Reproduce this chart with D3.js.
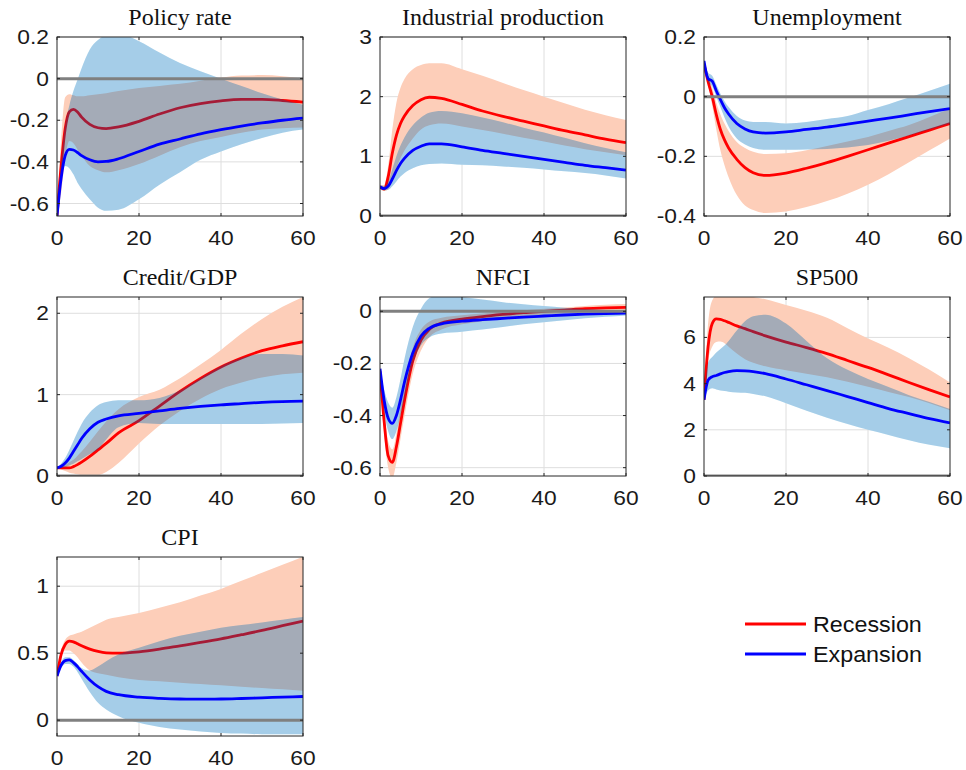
<!DOCTYPE html>
<html>
<head>
<meta charset="utf-8">
<script src="https://cdn.jsdelivr.net/npm/d3@7/dist/d3.min.js"></script>
<style>
  html, body { margin: 0; padding: 0; background: #fff; }
  svg { display: block; }
  .tint { mix-blend-mode: multiply; }
</style>
</head>
<body>
<svg id="chart" width="966" height="770"></svg>
<script>
// Horizons (months after the shock)
const horizons = [0,1,2,3,4,5,6,8,10,12,15,20,25,30,35,40,45,50,55,60];
const xTicks = [0, 20, 40, 60];

// Policy rate
const policyRec   = [-0.66,-0.42,-0.24,-0.16,-0.148,-0.16,-0.185,-0.22,-0.236,-0.24,-0.232,-0.205,-0.17,-0.14,-0.12,-0.107,-0.1,-0.1,-0.105,-0.113];
const policyRecLo = [-0.66,-0.55,-0.38,-0.3,-0.31,-0.34,-0.37,-0.42,-0.44,-0.45,-0.44,-0.41,-0.37,-0.33,-0.3,-0.28,-0.26,-0.245,-0.238,-0.235];
const policyRecHi = [-0.66,-0.3,-0.09,-0.075,-0.08,-0.085,-0.085,-0.08,-0.075,-0.07,-0.06,-0.045,-0.035,-0.025,-0.01,0.005,0.015,0.017,0.012,0.0];
const policyExp   = [-0.66,-0.48,-0.37,-0.34,-0.343,-0.355,-0.37,-0.39,-0.4,-0.398,-0.385,-0.35,-0.315,-0.29,-0.265,-0.245,-0.228,-0.213,-0.2,-0.19];
const policyExpLo = [-0.66,-0.45,-0.42,-0.43,-0.46,-0.5,-0.53,-0.58,-0.62,-0.635,-0.63,-0.58,-0.51,-0.45,-0.39,-0.35,-0.315,-0.285,-0.26,-0.245];
const policyExpHi = [-0.66,-0.4,-0.22,-0.13,-0.06,-0.005,0.05,0.14,0.185,0.21,0.215,0.18,0.125,0.075,0.035,0.0,-0.035,-0.07,-0.1,-0.125];
const policyTicks = [-0.6,-0.4,-0.2,0,0.2];
const policyTickLabels = ["-0.6","-0.4","-0.2","0","0.2"];

// Industrial production
const ipRec   = [0.49,0.45,0.66,1.05,1.35,1.55,1.68,1.85,1.95,1.99,1.97,1.87,1.76,1.67,1.59,1.51,1.43,1.36,1.29,1.23];
const ipRecLo = [0.45,0.42,0.45,0.6,0.8,0.97,1.1,1.3,1.45,1.52,1.55,1.5,1.44,1.38,1.31,1.25,1.18,1.12,1.07,1.02];
const ipRecHi = [0.52,0.52,0.85,1.45,1.9,2.15,2.3,2.46,2.53,2.56,2.56,2.46,2.35,2.23,2.11,2.0,1.89,1.78,1.69,1.61];
const ipExp   = [0.49,0.46,0.5,0.62,0.76,0.88,0.97,1.1,1.17,1.21,1.21,1.16,1.1,1.05,1.0,0.95,0.9,0.85,0.81,0.77];
const ipExpLo = [0.46,0.43,0.44,0.5,0.58,0.66,0.72,0.8,0.85,0.87,0.88,0.86,0.85,0.83,0.81,0.78,0.75,0.72,0.68,0.63];
const ipExpHi = [0.52,0.5,0.58,0.78,1.0,1.18,1.32,1.52,1.65,1.73,1.76,1.72,1.65,1.57,1.48,1.4,1.31,1.22,1.14,1.07];
const ipTicks = [0,1,2,3];
const ipTickLabels = ["0","1","2","3"];

// Unemployment
const unRec   = [0.11,0.05,0.0,-0.06,-0.11,-0.145,-0.172,-0.21,-0.238,-0.255,-0.264,-0.256,-0.24,-0.221,-0.2,-0.178,-0.156,-0.134,-0.112,-0.09];
const unRecLo = [0.1,0.04,-0.03,-0.11,-0.18,-0.23,-0.27,-0.33,-0.365,-0.38,-0.39,-0.385,-0.37,-0.35,-0.325,-0.295,-0.26,-0.22,-0.18,-0.14];
const unRecHi = [0.11,0.07,0.03,-0.02,-0.06,-0.09,-0.115,-0.152,-0.172,-0.185,-0.192,-0.19,-0.18,-0.165,-0.15,-0.135,-0.115,-0.095,-0.068,-0.04];
const unExp   = [0.12,0.06,0.052,0.02,-0.01,-0.037,-0.058,-0.09,-0.108,-0.118,-0.122,-0.118,-0.11,-0.102,-0.092,-0.082,-0.072,-0.061,-0.05,-0.04];
const unExpLo = [0.12,0.05,0.035,0.0,-0.035,-0.07,-0.1,-0.14,-0.16,-0.172,-0.178,-0.178,-0.177,-0.175,-0.17,-0.162,-0.148,-0.13,-0.11,-0.09];
const unExpHi = [0.12,0.08,0.07,0.04,0.01,-0.015,-0.035,-0.065,-0.08,-0.085,-0.085,-0.09,-0.085,-0.075,-0.065,-0.045,-0.025,-0.003,0.02,0.043];
const unTicks = [-0.4,-0.2,0,0.2];
const unTickLabels = ["-0.4","-0.2","0","0.2"];

// Credit/GDP
const crRec   = [0.1,0.1,0.1,0.1,0.115,0.14,0.17,0.24,0.32,0.4,0.53,0.68,0.86,1.04,1.2,1.34,1.45,1.54,1.6,1.65];
const crRecLo = [0.1,0.08,0.06,0.04,0.03,0.02,0.01,0.0,0.01,0.05,0.16,0.4,0.62,0.8,0.95,1.07,1.15,1.21,1.25,1.27];
const crRecHi = [0.1,0.12,0.14,0.17,0.2,0.25,0.3,0.42,0.55,0.67,0.82,0.97,1.06,1.2,1.37,1.55,1.75,1.93,2.08,2.2];
const crExp   = [0.1,0.12,0.16,0.22,0.3,0.38,0.46,0.58,0.66,0.7,0.74,0.77,0.8,0.83,0.855,0.875,0.89,0.905,0.915,0.92];
const crExpLo = [0.1,0.1,0.11,0.13,0.15,0.18,0.21,0.27,0.33,0.45,0.6,0.65,0.64,0.64,0.64,0.64,0.64,0.64,0.645,0.65];
const crExpHi = [0.1,0.15,0.22,0.32,0.43,0.54,0.64,0.78,0.87,0.91,0.93,0.93,0.96,1.05,1.2,1.35,1.45,1.5,1.5,1.48];
const crTicks = [0,1,2];
const crTickLabels = ["0","1","2"];

// NFCI
const nfRec   = [-0.23,-0.42,-0.555,-0.58,-0.52,-0.43,-0.34,-0.19,-0.11,-0.07,-0.045,-0.03,-0.02,-0.012,-0.005,0.0,0.005,0.01,0.013,0.015];
const nfRecLo = [-0.24,-0.47,-0.6,-0.64,-0.58,-0.49,-0.4,-0.24,-0.15,-0.1,-0.07,-0.05,-0.038,-0.028,-0.02,-0.013,-0.008,-0.004,0.0,0.002];
const nfRecHi = [-0.22,-0.38,-0.5,-0.53,-0.47,-0.37,-0.28,-0.14,-0.07,-0.04,-0.025,-0.015,-0.008,-0.002,0.004,0.01,0.015,0.02,0.025,0.028];
const nfExp   = [-0.22,-0.34,-0.41,-0.43,-0.4,-0.34,-0.27,-0.16,-0.095,-0.065,-0.048,-0.038,-0.032,-0.027,-0.022,-0.018,-0.014,-0.011,-0.009,-0.007];
const nfExpLo = [-0.22,-0.38,-0.46,-0.49,-0.46,-0.4,-0.33,-0.2,-0.13,-0.1,-0.085,-0.078,-0.07,-0.06,-0.05,-0.042,-0.034,-0.027,-0.021,-0.016];
const nfExpHi = [-0.22,-0.3,-0.35,-0.37,-0.33,-0.26,-0.18,-0.06,0.01,0.05,0.065,0.055,0.045,0.035,0.027,0.02,0.014,0.009,0.005,0.002];
const nfTicks = [-0.6,-0.4,-0.2,0];
const nfTickLabels = ["-0.6","-0.4","-0.2","0"];

// SP500
const spRec   = [3.3,5.6,6.6,6.8,6.78,6.72,6.65,6.5,6.38,6.25,6.07,5.8,5.56,5.3,5.0,4.7,4.38,4.05,3.73,3.42];
const spRecLo = [3.3,5.0,5.6,5.8,5.82,5.75,5.6,5.3,5.05,4.9,4.75,4.58,4.43,4.28,4.08,3.86,3.64,3.42,3.15,2.85];
const spRecHi = [3.3,6.6,7.6,7.8,7.8,7.8,7.8,7.8,7.8,7.75,7.65,7.4,7.15,6.85,6.4,5.95,5.55,5.1,4.6,4.05];
const spExp   = [3.3,4.15,4.3,4.35,4.42,4.48,4.52,4.56,4.55,4.52,4.43,4.2,3.95,3.7,3.44,3.18,2.92,2.7,2.48,2.3];
const spExpLo = [3.3,3.7,3.8,3.75,3.7,3.68,3.65,3.62,3.6,3.55,3.45,3.15,2.82,2.52,2.25,2.0,1.78,1.55,1.35,1.2];
const spExpHi = [3.3,4.9,5.15,5.35,5.5,5.65,5.85,6.3,6.7,6.92,6.98,6.6,5.85,5.1,4.6,4.2,3.85,3.5,3.2,2.9];
const spTicks = [0,2,4,6];
const spTickLabels = ["0","2","4","6"];

// CPI
const cpiRec   = [0.33,0.49,0.565,0.59,0.585,0.57,0.555,0.53,0.513,0.503,0.5,0.51,0.53,0.555,0.58,0.607,0.638,0.67,0.705,0.74];
const cpiRecLo = [0.33,0.47,0.52,0.52,0.5,0.47,0.43,0.37,0.35,0.34,0.32,0.3,0.29,0.28,0.27,0.26,0.25,0.24,0.23,0.22];
const cpiRecHi = [0.33,0.52,0.6,0.63,0.64,0.65,0.66,0.69,0.72,0.75,0.77,0.8,0.84,0.88,0.93,0.98,1.04,1.1,1.16,1.22];
const cpiExp   = [0.33,0.41,0.445,0.45,0.43,0.4,0.365,0.3,0.25,0.215,0.19,0.172,0.163,0.158,0.157,0.158,0.162,0.167,0.172,0.177];
const cpiExpLo = [0.33,0.39,0.42,0.42,0.4,0.36,0.31,0.21,0.13,0.08,0.03,-0.02,-0.05,-0.07,-0.085,-0.095,-0.1,-0.105,-0.105,-0.105];
const cpiExpHi = [0.33,0.43,0.47,0.47,0.45,0.42,0.39,0.37,0.4,0.44,0.49,0.54,0.59,0.63,0.66,0.69,0.71,0.73,0.75,0.77];
const cpiTicks = [0,0.5,1];
const cpiTickLabels = ["0","0.5","1"];

const legendLabels = ["Recession", "Expansion"];

const panels = [
  {title: "Policy rate", y: [-0.66, 0.2], ticks: policyTicks, labels: policyTickLabels,
   rec: policyRec, recLo: policyRecLo, recHi: policyRecHi, exp: policyExp, expLo: policyExpLo, expHi: policyExpHi},
  {title: "Industrial production", y: [0, 3], ticks: ipTicks, labels: ipTickLabels,
   rec: ipRec, recLo: ipRecLo, recHi: ipRecHi, exp: ipExp, expLo: ipExpLo, expHi: ipExpHi},
  {title: "Unemployment", y: [-0.4, 0.2], ticks: unTicks, labels: unTickLabels,
   rec: unRec, recLo: unRecLo, recHi: unRecHi, exp: unExp, expLo: unExpLo, expHi: unExpHi},
  {title: "Credit/GDP", y: [0, 2.2], ticks: crTicks, labels: crTickLabels,
   rec: crRec, recLo: crRecLo, recHi: crRecHi, exp: crExp, expLo: crExpLo, expHi: crExpHi},
  {title: "NFCI", y: [-0.632, 0.055], ticks: nfTicks, labels: nfTickLabels,
   rec: nfRec, recLo: nfRecLo, recHi: nfRecHi, exp: nfExp, expLo: nfExpLo, expHi: nfExpHi},
  {title: "SP500", y: [0, 7.75], ticks: spTicks, labels: spTickLabels,
   rec: spRec, recLo: spRecLo, recHi: spRecHi, exp: spExp, expLo: spExpLo, expHi: spExpHi},
  {title: "CPI", y: [-0.118, 1.218], ticks: cpiTicks, labels: cpiTickLabels,
   rec: cpiRec, recLo: cpiRecLo, recHi: cpiRecHi, exp: cpiExp, expLo: cpiExpLo, expHi: cpiExpHi}
];

// Layout of the 3x3 grid of small axes
const colLeft = [57, 380, 704];
const rowTop = [37, 297, 557];
const W = 246, Hh = 179;

const C = {
  rec: "#ff0000", exp: "#0000ff",
  recBand: "#fdceb9",
  // expansion band: a multiplied tint plus a translucent wash, so that it
  // reads light blue on white and slate grey where it covers the recession band
  expTint: "rgb(214,254,254)", expWash: "rgb(53,93,183)", expWashOpacity: 0.3,
  grid: "#dedede", zero: "#808080", axis: "#262626", text: "#1a1a1a"
};
const sansFont = "'Liberation Sans', Arial, Helvetica, sans-serif";
const serifFont = "'Liberation Serif', 'Times New Roman', serif";
const sansStretch = 1.14;

const svg = d3.select("#chart");
svg.append("rect").attr("width", 966).attr("height", 770).attr("fill", "#fff");

panels.forEach((p, i) => {
  const left = colLeft[i % 3], top = rowTop[Math.floor(i / 3)];
  const x = d3.scaleLinear().domain([0, 60]).range([0, W]);
  const y = d3.scaleLinear().domain(p.y).range([Hh, 0]);
  const g = svg.append("g").attr("transform", `translate(${left},${top})`);

  const clipId = "clip" + i;
  g.append("clipPath").attr("id", clipId)
    .append("rect").attr("width", W).attr("height", Hh);

  // grid
  const grid = g.append("g");
  grid.selectAll("line.gx").data(xTicks.slice(1, -1)).join("line")
    .attr("x1", d => x(d)).attr("x2", d => x(d)).attr("y1", 0).attr("y2", Hh)
    .attr("stroke", C.grid).attr("stroke-width", 1);
  grid.selectAll("line.gy").data(p.ticks).join("line")
    .attr("x1", 0).attr("x2", W).attr("y1", d => y(d)).attr("y2", d => y(d))
    .attr("stroke", C.grid).attr("stroke-width", 1);

  const plot = g.append("g").attr("clip-path", `url(#${clipId})`);
  const curve = d3.curveMonotoneX;
  const area = (lo, hi) => d3.area().curve(curve)
    .x((d, k) => x(horizons[k])).y0((d, k) => y(lo[k])).y1((d, k) => y(hi[k]));
  const line = d3.line().curve(curve)
    .x((d, k) => x(horizons[k])).y(d => y(d));

  // recession: band then response
  plot.append("path").attr("d", area(p.recLo, p.recHi)(p.rec)).attr("fill", C.recBand);
  plot.append("path").attr("d", line(p.rec))
    .attr("fill", "none").attr("stroke", C.rec).attr("stroke-width", 2.8);
  // expansion: band over it, then response on top
  const expArea = area(p.expLo, p.expHi)(p.exp);
  plot.append("path").attr("class", "tint").attr("d", expArea).attr("fill", C.expTint);
  plot.append("path").attr("d", expArea).attr("fill", C.expWash)
    .attr("fill-opacity", C.expWashOpacity);
  plot.append("path").attr("d", line(p.exp))
    .attr("fill", "none").attr("stroke", C.exp).attr("stroke-width", 2.8);

  // zero line
  plot.append("line").attr("x1", 0).attr("x2", W)
    .attr("y1", y(0)).attr("y2", y(0))
    .attr("stroke", C.zero).attr("stroke-width", 3);

  // box with inward ticks on all four sides
  g.append("rect").attr("width", W).attr("height", Hh)
    .attr("fill", "none").attr("stroke", C.axis).attr("stroke-width", 1);
  const tl = 3;
  const tk = g.append("g").attr("stroke", C.axis).attr("stroke-width", 1);
  xTicks.forEach(t => {
    tk.append("line").attr("x1", x(t)).attr("x2", x(t)).attr("y1", Hh).attr("y2", Hh - tl);
    tk.append("line").attr("x1", x(t)).attr("x2", x(t)).attr("y1", 0).attr("y2", tl);
  });
  p.ticks.forEach(t => {
    tk.append("line").attr("x1", 0).attr("x2", tl).attr("y1", y(t)).attr("y2", y(t));
    tk.append("line").attr("x1", W).attr("x2", W - tl).attr("y1", y(t)).attr("y2", y(t));
  });

  // tick labels
  g.selectAll("text.xl").data(xTicks).join("text")
    .attr("transform", d => `translate(${x(d)},${Hh + 29}) scale(${sansStretch},1)`)
    .attr("text-anchor", "middle").attr("font-family", sansFont).attr("font-size", 20)
    .attr("fill", C.text).text(d => d);
  g.selectAll("text.yl").data(p.ticks).join("text")
    .attr("transform", d => `translate(-8,${y(d)}) scale(${sansStretch},1)`)
    .attr("dy", "0.35em")
    .attr("text-anchor", "end").attr("font-family", sansFont).attr("font-size", 20)
    .attr("fill", C.text).text((d, k) => p.labels[k]);

  // title
  g.append("text").attr("x", W / 2).attr("y", -12)
    .attr("text-anchor", "middle").attr("font-family", serifFont).attr("font-size", 24)
    .attr("fill", "#111").text(p.title);
});

// legend
const lg = svg.append("g").attr("transform", "translate(745,624)");
[C.rec, C.exp].forEach((c, k) => {
  lg.append("line").attr("x1", 0).attr("x2", 61).attr("y1", k * 30).attr("y2", k * 30)
    .attr("stroke", c).attr("stroke-width", 2.8);
  lg.append("text").attr("transform", `translate(68,${k * 30}) scale(1.06,1)`)
    .attr("dy", "0.35em")
    .attr("font-family", sansFont).attr("font-size", 22).attr("fill", "#111")
    .text(legendLabels[k]);
});
</script>
</body>
</html>
